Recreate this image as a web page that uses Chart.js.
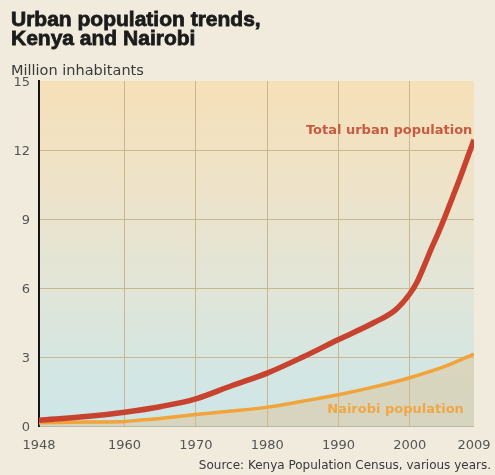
<!DOCTYPE html>
<html>
<head>
<meta charset="utf-8">
<script src="https://cdn.jsdelivr.net/npm/chart.js@4/dist/chart.umd.min.js"></script>
<style>
  html, body { margin: 0; padding: 0; background: #f0ebdc; }
  #wrap { width: 495px; height: 475px; }
</style>
</head>
<body>
<div id="wrap"><canvas id="c" width="495" height="475"></canvas></div>
<script>
// ---- data ----
const totalYears  = [1948, 1955, 1960, 1965, 1970, 1975, 1980, 1985, 1990, 1995, 1998, 2000, 2001, 2002, 2003, 2004, 2005, 2006, 2007, 2008, 2009];
const totalValues = [0.25, 0.42, 0.60, 0.84, 1.18, 1.75, 2.30, 3.00, 3.76, 4.50, 5.05, 5.75, 6.25, 6.95, 7.70, 8.40, 9.15, 9.95, 10.75, 11.60, 12.45];
const nairobiYears  = [1948, 1955, 1960, 1962, 1965, 1970, 1975, 1980, 1985, 1990, 1995, 2000, 2005, 2009];
const nairobiValues = [0.14, 0.17, 0.20, 0.25, 0.33, 0.50, 0.65, 0.82, 1.08, 1.36, 1.70, 2.10, 2.60, 3.13];
const xTickYears = [1948, 1960, 1970, 1980, 1990, 2000, 2009];
const yTickValues = [0, 3, 6, 9, 12, 15];
const seriesNames = ['Total urban population', 'Nairobi population'];
const titleLines = ['Urban population trends,', 'Kenya and Nairobi'];
const unitLabel = 'Million inhabitants';
const sourceText = 'Source: Kenya Population Census, various years.';

const toPoints = (xs, ys) => xs.map((x, i) => ({ x: x, y: ys[i] }));

const bgPlugin = {
  id: 'plotBg',
  beforeDraw(chart) {
    const { ctx, chartArea: a } = chart;
    const g = ctx.createLinearGradient(0, a.top, 0, a.bottom);
    g.addColorStop(0, '#f6e0b8');
    g.addColorStop(0.3, '#eee3c9');
    g.addColorStop(0.6, '#e1e5d8');
    g.addColorStop(0.85, '#d3e6e3');
    g.addColorStop(1, '#cee6e8');
    ctx.save();
    ctx.fillStyle = g;
    ctx.fillRect(a.left, a.top, a.right - a.left, a.bottom - a.top);
    ctx.restore();
  }
};

const textPlugin = {
  id: 'texts',
  afterDraw(chart) {
    const { ctx } = chart;
    const xs = chart.scales.x, ys = chart.scales.y;
    ctx.save();
    ctx.font = 'bold 21px "Liberation Sans", Arial, sans-serif';
    ctx.fillStyle = '#1b1b1b';
    ctx.strokeStyle = '#1b1b1b';
    ctx.lineWidth = 0.8;
    ctx.textAlign = 'left';
    ctx.textBaseline = 'alphabetic';
    titleLines.forEach((t, i) => {
      ctx.fillText(t, 11, 26 + i * 19);
      ctx.strokeText(t, 11, 26 + i * 19);
    });
    ctx.font = '14.5px "DejaVu Sans", sans-serif';
    ctx.fillStyle = '#3a3a3a';
    ctx.fillText(unitLabel, 11, 75);
    ctx.font = '12px "DejaVu Sans", sans-serif';
    ctx.fillStyle = '#3a3a3a';
    ctx.textAlign = 'right';
    ctx.fillText(sourceText, 491, 469);
    ctx.textAlign = 'center';
    ctx.textBaseline = 'middle';
    ctx.font = 'bold 13px "DejaVu Sans", sans-serif';
    ctx.fillStyle = '#c65a42';
    ctx.fillText(seriesNames[0], xs.getPixelForValue(1997.1), ys.getPixelForValue(12.84));
    ctx.fillStyle = '#f0a845';
    ctx.fillText(seriesNames[1], xs.getPixelForValue(1998.0), ys.getPixelForValue(0.70));
    ctx.restore();
  }
};

const gridColor = '#cbb78f';

new Chart(document.getElementById('c'), {
  type: 'line',
  data: {
    datasets: [
      {
        label: seriesNames[0],
        data: toPoints(totalYears, totalValues),
        borderColor: '#c8432f',
        borderWidth: 5.5,
        pointRadius: 0,
        cubicInterpolationMode: 'monotone',
        fill: false,
        borderCapStyle: 'butt'
      },
      {
        label: seriesNames[1],
        data: toPoints(nairobiYears, nairobiValues),
        borderColor: '#f2a33a',
        borderWidth: 3.5,
        pointRadius: 0,
        cubicInterpolationMode: 'monotone',
        fill: 'origin',
        backgroundColor: 'rgba(230,180,120,0.35)'
      }
    ]
  },
  options: {
    responsive: false,
    animation: false,
    devicePixelRatio: 1,
    layout: { padding: { top: 81, right: 21, bottom: 0, left: 0 } },
    plugins: {
      legend: { display: false },
      title: { display: false },
      tooltip: { enabled: false }
    },
    scales: {
      x: {
        type: 'linear',
        min: 1948,
        max: 2009,
        afterBuildTicks(s) { s.ticks = xTickYears.map(v => ({ value: v })); },
        afterFit(s) { s.height = 49; s.paddingLeft = 0; s.paddingRight = 0; },
        grid: {
          color: c => (c.tick && c.tick.value === 2009) ? 'rgba(0,0,0,0)' : gridColor,
          lineWidth: 1, drawTicks: false
        },
        border: { display: false },
        ticks: {
          autoSkip: false, maxRotation: 0, padding: 12,
          color: '#555', font: { family: '"DejaVu Sans", sans-serif', size: 13 },
          callback: v => String(v)
        }
      },
      y: {
        type: 'linear',
        min: 0,
        max: 15,
        afterBuildTicks(s) { s.ticks = yTickValues.map(v => ({ value: v })); },
        afterFit(s) { s.width = 39; s.paddingTop = 0; s.paddingBottom = 0; },
        grid: {
          color: c => (c.tick && c.tick.value === 15) ? 'rgba(0,0,0,0)' : (c.tick && c.tick.value === 0 ? '#b9b8a4' : gridColor),
          lineWidth: 1, drawTicks: false
        },
        border: { display: true, color: '#151515', width: 2 },
        ticks: {
          padding: 9, labelOffset: 2,
          color: '#555', font: { family: '"DejaVu Sans", sans-serif', size: 13 },
          callback: v => String(v)
        }
      }
    }
  },
  plugins: [bgPlugin, textPlugin]
});
</script>
</body>
</html>
